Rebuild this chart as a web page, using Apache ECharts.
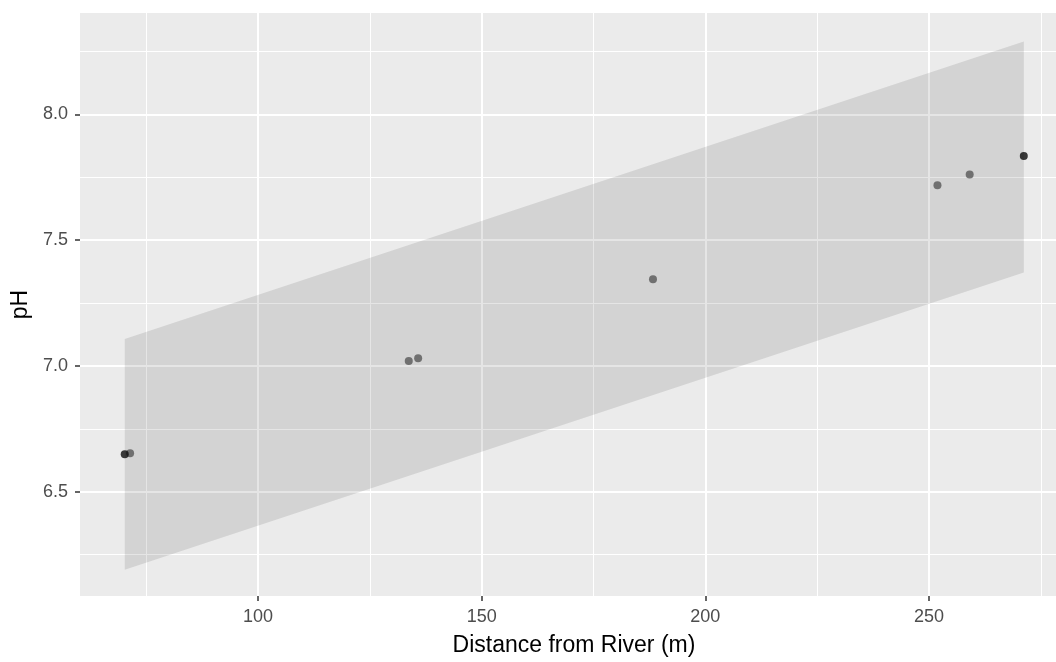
<!DOCTYPE html>
<html>
<head>
<meta charset="utf-8">
<script src="https://cdn.jsdelivr.net/npm/echarts@6/dist/echarts.min.js"></script>
<style>
html,body{margin:0;padding:0;background:#fff;}
#chart{width:1056px;height:662px;}
</style>
</head>
<body>
<div id="chart"></div>
<script>
// Data
const distance = [70.2, 71.4, 133.7, 135.8, 188.3, 251.9, 259.1, 271.2];
const pH       = [6.649, 6.653, 7.020, 7.031, 7.345, 7.718, 7.761, 7.835];
const dark     = [true, false, false, false, false, false, false, true];

const ribbonX     = [70.2, 271.2];
const ribbonLower = [6.190, 7.372];
const ribbonUpper = [7.107, 8.290];

const xMajor = [100, 150, 200, 250];
const xMinor = [75, 125, 175, 225, 275];
const yMajor = [6.5, 7.0, 7.5, 8.0];
const yMinor = [6.25, 6.75, 7.25, 7.75, 8.25];

// visible axis window (the reference panel is cut at the right image edge)
const xMin = 60.2, xMax = 278.4;
const yMin = 6.086, yMax = 8.403;

const greyPts = [], darkPts = [];
distance.forEach((d, i) => (dark[i] ? darkPts : greyPts).push([d, pH[i]]));
const ribbonData = ribbonX.map((x, i) => [x, ribbonLower[i], ribbonUpper[i]]);

const font = '"Liberation Sans", Arial, sans-serif';
const chart = echarts.init(document.getElementById('chart'), null, {renderer: 'canvas'});

function majorAxis(dim, vals, fmt) {
  const isX = dim === 'x';
  return {
    type: 'value',
    min: isX ? xMin : yMin,
    max: isX ? xMax : yMax,
    axisLine: {show: false},
    axisTick: {show: true, length: 5, customValues: vals, lineStyle: {color: '#333', width: 1.5}},
    axisLabel: {customValues: vals, formatter: fmt, color: '#4d4d4d', fontFamily: font, fontSize: 18,
                margin: isX ? 12 : 12},
    splitLine: {show: true, lineStyle: {color: '#ffffff', width: 2}},
    minorTick: {show: false},
    name: isX ? 'Distance from River (m)' : 'pH',
    nameLocation: 'middle',
    nameGap: isX ? 38 : 44,
    nameTextStyle: {color: '#000', fontFamily: font, fontSize: 23,
                    padding: isX ? [0, 0, 0, 12] : 0},
    z: 1
  };
}
function minorAxis(dim, vals) {
  const isX = dim === 'x';
  return {
    type: 'value',
    min: isX ? xMin : yMin,
    max: isX ? xMax : yMax,
    axisLine: {show: false},
    axisTick: {show: false, customValues: vals},
    axisLabel: {show: false, customValues: vals},
    splitLine: {show: true, lineStyle: {color: '#ffffff', width: 1}},
    z: 0
  };
}

chart.setOption({
  animation: false,
  backgroundColor: '#ffffff',
  grid: {left: 80, right: 0, top: 13, bottom: 61, show: true, backgroundColor: '#ebebeb', borderWidth: 0, containLabel: false},
  xAxis: [majorAxis('x', xMajor, v => String(v)), minorAxis('x', xMinor)],
  yAxis: [majorAxis('y', yMajor, v => v.toFixed(1)), minorAxis('y', yMinor)],
  series: [
    {
      type: 'custom',
      xAxisIndex: 0, yAxisIndex: 0,
      data: ribbonData,
      encode: {x: 0, y: [1, 2]},
      renderItem: function (params, api) {
        if (params.dataIndex !== 0) return null;
        const pts = [];
        for (let i = 0; i < ribbonX.length; i++) pts.push(api.coord([ribbonX[i], ribbonUpper[i]]));
        for (let i = ribbonX.length - 1; i >= 0; i--) pts.push(api.coord([ribbonX[i], ribbonLower[i]]));
        return {type: 'polygon', shape: {points: pts}, style: {fill: 'rgba(0,0,0,0.1)'}};
      },
      z: 2,
      silent: true
    },
    {
      type: 'scatter', xAxisIndex: 0, yAxisIndex: 0,
      data: greyPts, symbol: 'circle', symbolSize: 8,
      itemStyle: {color: '#575757'}, z: 3
    },
    {
      type: 'scatter', xAxisIndex: 0, yAxisIndex: 0,
      data: darkPts, symbol: 'circle', symbolSize: 8,
      itemStyle: {color: '#0d0d0d'}, z: 4
    }
  ]
});
</script>
</body>
</html>
